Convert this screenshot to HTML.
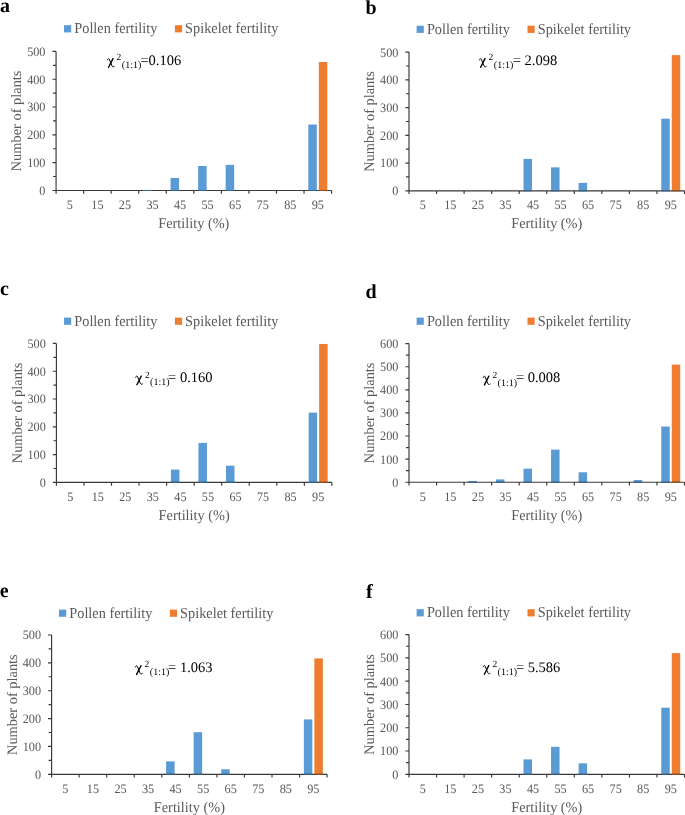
<!DOCTYPE html>
<html><head><meta charset="utf-8"><style>
html,body{margin:0;padding:0;background:#fff;}
body{width:685px;height:815px;overflow:hidden;}
svg{display:block;font-family:"Liberation Serif",serif;text-rendering:geometricPrecision;will-change:transform;}
</style></head><body>
<svg width="685" height="815" viewBox="0 0 685 815">
<rect width="685" height="815" fill="#fff"/>
<text transform="translate(0,12)" font-size="20" fill="#000" font-weight="bold">a</text>
<rect x="64" y="25.2" width="7.2" height="7.2" fill="#5B9BD5"/>
<text transform="translate(74.3,33.2) scale(1.0,1.06)" font-size="14.3" fill="#595959">Pollen fertility</text>
<rect x="174.9" y="25.2" width="7.2" height="7.2" fill="#ED7D31"/>
<text transform="translate(185.1,33.2) scale(1.0,1.06)" font-size="14.3" fill="#595959">Spikelet fertility</text>
<rect x="143.02" y="190.17" width="8.5" height="0.28" fill="#5B9BD5"/>
<rect x="170.57" y="177.94" width="8.5" height="12.51" fill="#5B9BD5"/>
<rect x="198.12" y="165.98" width="8.5" height="24.47" fill="#5B9BD5"/>
<rect x="225.67" y="164.86" width="8.5" height="25.59" fill="#5B9BD5"/>
<rect x="308.32" y="124.54" width="8.5" height="65.91" fill="#5B9BD5"/>
<rect x="318.82" y="61.97" width="8.5" height="128.48" fill="#ED7D31"/>
<path d="M56.07,51.4V193.75M52.47,190.45H331.57M52.47,162.64H56.07M52.47,134.83H56.07M52.47,107.02H56.07M52.47,79.21H56.07M52.47,51.4H56.07M53.07,176.54H56.07M53.07,148.73H56.07M53.07,120.92H56.07M53.07,93.12H56.07M53.07,65.31H56.07M83.62,190.45V193.75M111.17,190.45V193.75M138.72,190.45V193.75M166.27,190.45V193.75M193.82,190.45V193.75M221.37,190.45V193.75M248.92,190.45V193.75M276.47,190.45V193.75M304.02,190.45V193.75M331.57,190.45V193.75" stroke="#383838" stroke-width="1.15" fill="none"/>
<rect x="143.02" y="189.95" width="8.5" height="1" fill="#3a6790"/>
<rect x="170.57" y="189.95" width="8.5" height="1" fill="#3a6790"/>
<rect x="198.12" y="189.95" width="8.5" height="1" fill="#3a6790"/>
<rect x="225.67" y="189.95" width="8.5" height="1" fill="#3a6790"/>
<rect x="308.32" y="189.95" width="8.5" height="1" fill="#3a6790"/>
<rect x="318.82" y="189.95" width="8.5" height="1" fill="#a0531f"/>
<text transform="translate(45.47,194.85) scale(0.946,1.0)" font-size="12.9" fill="#595959" text-anchor="end">0</text>
<text transform="translate(45.47,167.04) scale(0.946,1.0)" font-size="12.9" fill="#595959" text-anchor="end">100</text>
<text transform="translate(45.47,139.23) scale(0.946,1.0)" font-size="12.9" fill="#595959" text-anchor="end">200</text>
<text transform="translate(45.47,111.42) scale(0.946,1.0)" font-size="12.9" fill="#595959" text-anchor="end">300</text>
<text transform="translate(45.47,83.61) scale(0.946,1.0)" font-size="12.9" fill="#595959" text-anchor="end">400</text>
<text transform="translate(45.47,55.8) scale(0.946,1.0)" font-size="12.9" fill="#595959" text-anchor="end">500</text>
<text transform="translate(69.84,208.85) scale(0.946,1.0)" font-size="12.9" fill="#595959" text-anchor="middle">5</text>
<text transform="translate(97.4,208.85) scale(0.946,1.0)" font-size="12.9" fill="#595959" text-anchor="middle">15</text>
<text transform="translate(124.94,208.85) scale(0.946,1.0)" font-size="12.9" fill="#595959" text-anchor="middle">25</text>
<text transform="translate(152.5,208.85) scale(0.946,1.0)" font-size="12.9" fill="#595959" text-anchor="middle">35</text>
<text transform="translate(180.05,208.85) scale(0.946,1.0)" font-size="12.9" fill="#595959" text-anchor="middle">45</text>
<text transform="translate(207.59,208.85) scale(0.946,1.0)" font-size="12.9" fill="#595959" text-anchor="middle">55</text>
<text transform="translate(235.15,208.85) scale(0.946,1.0)" font-size="12.9" fill="#595959" text-anchor="middle">65</text>
<text transform="translate(262.69,208.85) scale(0.946,1.0)" font-size="12.9" fill="#595959" text-anchor="middle">75</text>
<text transform="translate(290.25,208.85) scale(0.946,1.0)" font-size="12.9" fill="#595959" text-anchor="middle">85</text>
<text transform="translate(317.8,208.85) scale(0.946,1.0)" font-size="12.9" fill="#595959" text-anchor="middle">95</text>
<text transform="translate(193.82,227.95) scale(1.0,1.04)" font-size="14.3" fill="#595959" text-anchor="middle">Fertility (%)</text>
<text transform="translate(21.17,120.92) rotate(-90)" font-size="14.4" fill="#595959" text-anchor="middle">Number of plants</text>
<g transform="translate(107.4,64.7)" fill="none" stroke="#000" stroke-linecap="round"><path d="M0,-4.8C0.5,-6.3 1.4,-6.5 1.9,-5.5L4.6,1.2C5.2,2.4 6.2,2.5 6.9,1.8" stroke-width="1.0"/><path d="M5.6,-6.1L1.2,2.6" stroke-width="1.4"/></g>
<text transform="translate(116.6,60.1)" font-size="9.5" fill="#000">2</text>
<text transform="translate(121.8,67.9)" font-size="10" fill="#000">(1:1)</text>
<text transform="translate(140.4,64.7)" font-size="14.5" fill="#000" xml:space="preserve">=0.106</text>
<text transform="translate(365.6,14)" font-size="20" fill="#000" font-weight="bold">b</text>
<rect x="416.6" y="25.7" width="7.2" height="7.2" fill="#5B9BD5"/>
<text transform="translate(426.9,33.7) scale(1.0,1.06)" font-size="14.3" fill="#595959">Pollen fertility</text>
<rect x="527.5" y="25.7" width="7.2" height="7.2" fill="#ED7D31"/>
<text transform="translate(537.7,33.7) scale(1.0,1.06)" font-size="14.3" fill="#595959">Spikelet fertility</text>
<rect x="523.5" y="158.9" width="8.5" height="31.9" fill="#5B9BD5"/>
<rect x="551.05" y="167.36" width="8.5" height="23.44" fill="#5B9BD5"/>
<rect x="578.6" y="182.89" width="8.5" height="7.91" fill="#5B9BD5"/>
<rect x="661.25" y="118.68" width="8.5" height="72.12" fill="#5B9BD5"/>
<rect x="671.75" y="55.15" width="8.5" height="135.65" fill="#ED7D31"/>
<path d="M409,52.1V194.1M405.4,190.8H684.5M405.4,163.06H409M405.4,135.32H409M405.4,107.58H409M405.4,79.84H409M405.4,52.1H409M406,176.93H409M406,149.19H409M406,121.45H409M406,93.71H409M406,65.97H409M436.55,190.8V194.1M464.1,190.8V194.1M491.65,190.8V194.1M519.2,190.8V194.1M546.75,190.8V194.1M574.3,190.8V194.1M601.85,190.8V194.1M629.4,190.8V194.1M656.95,190.8V194.1M684.5,190.8V194.1" stroke="#383838" stroke-width="1.15" fill="none"/>
<rect x="523.5" y="190.3" width="8.5" height="1" fill="#3a6790"/>
<rect x="551.05" y="190.3" width="8.5" height="1" fill="#3a6790"/>
<rect x="578.6" y="190.3" width="8.5" height="1" fill="#3a6790"/>
<rect x="661.25" y="190.3" width="8.5" height="1" fill="#3a6790"/>
<rect x="671.75" y="190.3" width="8.5" height="1" fill="#a0531f"/>
<text transform="translate(398.4,195.2) scale(0.946,1.0)" font-size="12.9" fill="#595959" text-anchor="end">0</text>
<text transform="translate(398.4,167.46) scale(0.946,1.0)" font-size="12.9" fill="#595959" text-anchor="end">100</text>
<text transform="translate(398.4,139.72) scale(0.946,1.0)" font-size="12.9" fill="#595959" text-anchor="end">200</text>
<text transform="translate(398.4,111.98) scale(0.946,1.0)" font-size="12.9" fill="#595959" text-anchor="end">300</text>
<text transform="translate(398.4,84.24) scale(0.946,1.0)" font-size="12.9" fill="#595959" text-anchor="end">400</text>
<text transform="translate(398.4,56.5) scale(0.946,1.0)" font-size="12.9" fill="#595959" text-anchor="end">500</text>
<text transform="translate(422.77,209.2) scale(0.946,1.0)" font-size="12.9" fill="#595959" text-anchor="middle">5</text>
<text transform="translate(450.32,209.2) scale(0.946,1.0)" font-size="12.9" fill="#595959" text-anchor="middle">15</text>
<text transform="translate(477.88,209.2) scale(0.946,1.0)" font-size="12.9" fill="#595959" text-anchor="middle">25</text>
<text transform="translate(505.43,209.2) scale(0.946,1.0)" font-size="12.9" fill="#595959" text-anchor="middle">35</text>
<text transform="translate(532.98,209.2) scale(0.946,1.0)" font-size="12.9" fill="#595959" text-anchor="middle">45</text>
<text transform="translate(560.52,209.2) scale(0.946,1.0)" font-size="12.9" fill="#595959" text-anchor="middle">55</text>
<text transform="translate(588.08,209.2) scale(0.946,1.0)" font-size="12.9" fill="#595959" text-anchor="middle">65</text>
<text transform="translate(615.62,209.2) scale(0.946,1.0)" font-size="12.9" fill="#595959" text-anchor="middle">75</text>
<text transform="translate(643.17,209.2) scale(0.946,1.0)" font-size="12.9" fill="#595959" text-anchor="middle">85</text>
<text transform="translate(670.73,209.2) scale(0.946,1.0)" font-size="12.9" fill="#595959" text-anchor="middle">95</text>
<text transform="translate(546.75,228.3) scale(1.0,1.04)" font-size="14.3" fill="#595959" text-anchor="middle">Fertility (%)</text>
<text transform="translate(374.1,121.45) rotate(-90)" font-size="14.4" fill="#595959" text-anchor="middle">Number of plants</text>
<g transform="translate(479.4,64.7)" fill="none" stroke="#000" stroke-linecap="round"><path d="M0,-4.8C0.5,-6.3 1.4,-6.5 1.9,-5.5L4.6,1.2C5.2,2.4 6.2,2.5 6.9,1.8" stroke-width="1.0"/><path d="M5.6,-6.1L1.2,2.6" stroke-width="1.4"/></g>
<text transform="translate(488.6,60.1)" font-size="9.5" fill="#000">2</text>
<text transform="translate(493.8,67.9)" font-size="10" fill="#000">(1:1)</text>
<text transform="translate(512.8,64.7)" font-size="14.5" fill="#000" xml:space="preserve">= 2.098</text>
<text transform="translate(0,294.7)" font-size="20" fill="#000" font-weight="bold">c</text>
<rect x="64" y="317.6" width="7.2" height="7.2" fill="#5B9BD5"/>
<text transform="translate(74.3,325.6) scale(1.0,1.06)" font-size="14.3" fill="#595959">Pollen fertility</text>
<rect x="174.9" y="317.6" width="7.2" height="7.2" fill="#ED7D31"/>
<text transform="translate(185.1,325.6) scale(1.0,1.06)" font-size="14.3" fill="#595959">Spikelet fertility</text>
<rect x="170.9" y="469.61" width="8.5" height="12.79" fill="#5B9BD5"/>
<rect x="198.45" y="442.92" width="8.5" height="39.48" fill="#5B9BD5"/>
<rect x="226" y="465.72" width="8.5" height="16.68" fill="#5B9BD5"/>
<rect x="308.65" y="412.62" width="8.5" height="69.78" fill="#5B9BD5"/>
<rect x="319.15" y="343.96" width="8.5" height="138.44" fill="#ED7D31"/>
<path d="M56.4,343.4V485.7M52.8,482.4H331.9M52.8,454.6H56.4M52.8,426.8H56.4M52.8,399H56.4M52.8,371.2H56.4M52.8,343.4H56.4M53.4,468.5H56.4M53.4,440.7H56.4M53.4,412.9H56.4M53.4,385.1H56.4M53.4,357.3H56.4M83.95,482.4V485.7M111.5,482.4V485.7M139.05,482.4V485.7M166.6,482.4V485.7M194.15,482.4V485.7M221.7,482.4V485.7M249.25,482.4V485.7M276.8,482.4V485.7M304.35,482.4V485.7M331.9,482.4V485.7" stroke="#383838" stroke-width="1.15" fill="none"/>
<rect x="170.9" y="481.9" width="8.5" height="1" fill="#3a6790"/>
<rect x="198.45" y="481.9" width="8.5" height="1" fill="#3a6790"/>
<rect x="226" y="481.9" width="8.5" height="1" fill="#3a6790"/>
<rect x="308.65" y="481.9" width="8.5" height="1" fill="#3a6790"/>
<rect x="319.15" y="481.9" width="8.5" height="1" fill="#a0531f"/>
<text transform="translate(45.8,486.8) scale(0.946,1.0)" font-size="12.9" fill="#595959" text-anchor="end">0</text>
<text transform="translate(45.8,459) scale(0.946,1.0)" font-size="12.9" fill="#595959" text-anchor="end">100</text>
<text transform="translate(45.8,431.2) scale(0.946,1.0)" font-size="12.9" fill="#595959" text-anchor="end">200</text>
<text transform="translate(45.8,403.4) scale(0.946,1.0)" font-size="12.9" fill="#595959" text-anchor="end">300</text>
<text transform="translate(45.8,375.6) scale(0.946,1.0)" font-size="12.9" fill="#595959" text-anchor="end">400</text>
<text transform="translate(45.8,347.8) scale(0.946,1.0)" font-size="12.9" fill="#595959" text-anchor="end">500</text>
<text transform="translate(70.17,500.8) scale(0.946,1.0)" font-size="12.9" fill="#595959" text-anchor="middle">5</text>
<text transform="translate(97.72,500.8) scale(0.946,1.0)" font-size="12.9" fill="#595959" text-anchor="middle">15</text>
<text transform="translate(125.28,500.8) scale(0.946,1.0)" font-size="12.9" fill="#595959" text-anchor="middle">25</text>
<text transform="translate(152.82,500.8) scale(0.946,1.0)" font-size="12.9" fill="#595959" text-anchor="middle">35</text>
<text transform="translate(180.38,500.8) scale(0.946,1.0)" font-size="12.9" fill="#595959" text-anchor="middle">45</text>
<text transform="translate(207.93,500.8) scale(0.946,1.0)" font-size="12.9" fill="#595959" text-anchor="middle">55</text>
<text transform="translate(235.48,500.8) scale(0.946,1.0)" font-size="12.9" fill="#595959" text-anchor="middle">65</text>
<text transform="translate(263.02,500.8) scale(0.946,1.0)" font-size="12.9" fill="#595959" text-anchor="middle">75</text>
<text transform="translate(290.57,500.8) scale(0.946,1.0)" font-size="12.9" fill="#595959" text-anchor="middle">85</text>
<text transform="translate(318.12,500.8) scale(0.946,1.0)" font-size="12.9" fill="#595959" text-anchor="middle">95</text>
<text transform="translate(194.15,519.9) scale(1.0,1.04)" font-size="14.3" fill="#595959" text-anchor="middle">Fertility (%)</text>
<text transform="translate(21.5,412.9) rotate(-90)" font-size="14.4" fill="#595959" text-anchor="middle">Number of plants</text>
<g transform="translate(135.7,382.1)" fill="none" stroke="#000" stroke-linecap="round"><path d="M0,-4.8C0.5,-6.3 1.4,-6.5 1.9,-5.5L4.6,1.2C5.2,2.4 6.2,2.5 6.9,1.8" stroke-width="1.0"/><path d="M5.6,-6.1L1.2,2.6" stroke-width="1.4"/></g>
<text transform="translate(144.9,377.5)" font-size="9.5" fill="#000">2</text>
<text transform="translate(150.1,385.3)" font-size="10" fill="#000">(1:1)</text>
<text transform="translate(168.1,382.1)" font-size="14.5" fill="#000" xml:space="preserve">= 0.160</text>
<text transform="translate(365.5,297.65)" font-size="20" fill="#000" font-weight="bold">d</text>
<rect x="416.6" y="317.6" width="7.2" height="7.2" fill="#5B9BD5"/>
<text transform="translate(426.9,325.6) scale(1.0,1.06)" font-size="14.3" fill="#595959">Pollen fertility</text>
<rect x="527.5" y="317.6" width="7.2" height="7.2" fill="#ED7D31"/>
<text transform="translate(537.7,325.6) scale(1.0,1.06)" font-size="14.3" fill="#595959">Spikelet fertility</text>
<rect x="468.4" y="481.05" width="8.5" height="1.15" fill="#5B9BD5"/>
<rect x="495.95" y="479.43" width="8.5" height="2.77" fill="#5B9BD5"/>
<rect x="523.5" y="468.64" width="8.5" height="13.56" fill="#5B9BD5"/>
<rect x="551.05" y="449.63" width="8.5" height="32.57" fill="#5B9BD5"/>
<rect x="578.6" y="472.27" width="8.5" height="9.93" fill="#5B9BD5"/>
<rect x="633.7" y="479.98" width="8.5" height="2.22" fill="#5B9BD5"/>
<rect x="661.25" y="426.53" width="8.5" height="55.67" fill="#5B9BD5"/>
<rect x="671.75" y="364.62" width="8.5" height="117.58" fill="#ED7D31"/>
<path d="M409,343.6V485.5M405.4,482.2H684.5M405.4,459.1H409M405.4,436H409M405.4,412.9H409M405.4,389.8H409M405.4,366.7H409M405.4,343.6H409M406,470.65H409M406,447.55H409M406,424.45H409M406,401.35H409M406,378.25H409M406,355.15H409M436.55,482.2V485.5M464.1,482.2V485.5M491.65,482.2V485.5M519.2,482.2V485.5M546.75,482.2V485.5M574.3,482.2V485.5M601.85,482.2V485.5M629.4,482.2V485.5M656.95,482.2V485.5M684.5,482.2V485.5" stroke="#383838" stroke-width="1.15" fill="none"/>
<rect x="468.4" y="481.7" width="8.5" height="1" fill="#3a6790"/>
<rect x="495.95" y="481.7" width="8.5" height="1" fill="#3a6790"/>
<rect x="523.5" y="481.7" width="8.5" height="1" fill="#3a6790"/>
<rect x="551.05" y="481.7" width="8.5" height="1" fill="#3a6790"/>
<rect x="578.6" y="481.7" width="8.5" height="1" fill="#3a6790"/>
<rect x="633.7" y="481.7" width="8.5" height="1" fill="#3a6790"/>
<rect x="661.25" y="481.7" width="8.5" height="1" fill="#3a6790"/>
<rect x="671.75" y="481.7" width="8.5" height="1" fill="#a0531f"/>
<text transform="translate(398.4,486.6) scale(0.946,1.0)" font-size="12.9" fill="#595959" text-anchor="end">0</text>
<text transform="translate(398.4,463.5) scale(0.946,1.0)" font-size="12.9" fill="#595959" text-anchor="end">100</text>
<text transform="translate(398.4,440.4) scale(0.946,1.0)" font-size="12.9" fill="#595959" text-anchor="end">200</text>
<text transform="translate(398.4,417.3) scale(0.946,1.0)" font-size="12.9" fill="#595959" text-anchor="end">300</text>
<text transform="translate(398.4,394.2) scale(0.946,1.0)" font-size="12.9" fill="#595959" text-anchor="end">400</text>
<text transform="translate(398.4,371.1) scale(0.946,1.0)" font-size="12.9" fill="#595959" text-anchor="end">500</text>
<text transform="translate(398.4,348) scale(0.946,1.0)" font-size="12.9" fill="#595959" text-anchor="end">600</text>
<text transform="translate(422.77,500.6) scale(0.946,1.0)" font-size="12.9" fill="#595959" text-anchor="middle">5</text>
<text transform="translate(450.32,500.6) scale(0.946,1.0)" font-size="12.9" fill="#595959" text-anchor="middle">15</text>
<text transform="translate(477.88,500.6) scale(0.946,1.0)" font-size="12.9" fill="#595959" text-anchor="middle">25</text>
<text transform="translate(505.43,500.6) scale(0.946,1.0)" font-size="12.9" fill="#595959" text-anchor="middle">35</text>
<text transform="translate(532.98,500.6) scale(0.946,1.0)" font-size="12.9" fill="#595959" text-anchor="middle">45</text>
<text transform="translate(560.52,500.6) scale(0.946,1.0)" font-size="12.9" fill="#595959" text-anchor="middle">55</text>
<text transform="translate(588.08,500.6) scale(0.946,1.0)" font-size="12.9" fill="#595959" text-anchor="middle">65</text>
<text transform="translate(615.62,500.6) scale(0.946,1.0)" font-size="12.9" fill="#595959" text-anchor="middle">75</text>
<text transform="translate(643.17,500.6) scale(0.946,1.0)" font-size="12.9" fill="#595959" text-anchor="middle">85</text>
<text transform="translate(670.73,500.6) scale(0.946,1.0)" font-size="12.9" fill="#595959" text-anchor="middle">95</text>
<text transform="translate(546.75,519.7) scale(1.0,1.04)" font-size="14.3" fill="#595959" text-anchor="middle">Fertility (%)</text>
<text transform="translate(374.1,412.9) rotate(-90)" font-size="14.4" fill="#595959" text-anchor="middle">Number of plants</text>
<g transform="translate(483.2,382.3)" fill="none" stroke="#000" stroke-linecap="round"><path d="M0,-4.8C0.5,-6.3 1.4,-6.5 1.9,-5.5L4.6,1.2C5.2,2.4 6.2,2.5 6.9,1.8" stroke-width="1.0"/><path d="M5.6,-6.1L1.2,2.6" stroke-width="1.4"/></g>
<text transform="translate(492.4,377.7)" font-size="9.5" fill="#000">2</text>
<text transform="translate(497.6,385.5)" font-size="10" fill="#000">(1:1)</text>
<text transform="translate(515.9,382.3)" font-size="14.5" fill="#000" xml:space="preserve">= 0.008</text>
<text transform="translate(-0.2,596.8)" font-size="20" fill="#000" font-weight="bold">e</text>
<rect x="59" y="609.6" width="7.2" height="7.2" fill="#5B9BD5"/>
<text transform="translate(69.3,617.6) scale(1.0,1.06)" font-size="14.3" fill="#595959">Pollen fertility</text>
<rect x="169.9" y="609.6" width="7.2" height="7.2" fill="#ED7D31"/>
<text transform="translate(180.1,617.6) scale(1.0,1.06)" font-size="14.3" fill="#595959">Spikelet fertility</text>
<rect x="166.1" y="761.35" width="8.5" height="12.95" fill="#5B9BD5"/>
<rect x="193.65" y="732.23" width="8.5" height="42.07" fill="#5B9BD5"/>
<rect x="221.2" y="769.29" width="8.5" height="5.01" fill="#5B9BD5"/>
<rect x="303.85" y="719.42" width="8.5" height="54.88" fill="#5B9BD5"/>
<rect x="314.35" y="658.4" width="8.5" height="115.9" fill="#ED7D31"/>
<path d="M51.6,635V777.6M48,774.3H327.1M48,746.44H51.6M48,718.58H51.6M48,690.72H51.6M48,662.86H51.6M48,635H51.6M48.6,760.37H51.6M48.6,732.51H51.6M48.6,704.65H51.6M48.6,676.79H51.6M48.6,648.93H51.6M79.15,774.3V777.6M106.7,774.3V777.6M134.25,774.3V777.6M161.8,774.3V777.6M189.35,774.3V777.6M216.9,774.3V777.6M244.45,774.3V777.6M272,774.3V777.6M299.55,774.3V777.6M327.1,774.3V777.6" stroke="#383838" stroke-width="1.15" fill="none"/>
<rect x="166.1" y="773.8" width="8.5" height="1" fill="#3a6790"/>
<rect x="193.65" y="773.8" width="8.5" height="1" fill="#3a6790"/>
<rect x="221.2" y="773.8" width="8.5" height="1" fill="#3a6790"/>
<rect x="303.85" y="773.8" width="8.5" height="1" fill="#3a6790"/>
<rect x="314.35" y="773.8" width="8.5" height="1" fill="#a0531f"/>
<text transform="translate(41,778.7) scale(0.946,1.0)" font-size="12.9" fill="#595959" text-anchor="end">0</text>
<text transform="translate(41,750.84) scale(0.946,1.0)" font-size="12.9" fill="#595959" text-anchor="end">100</text>
<text transform="translate(41,722.98) scale(0.946,1.0)" font-size="12.9" fill="#595959" text-anchor="end">200</text>
<text transform="translate(41,695.12) scale(0.946,1.0)" font-size="12.9" fill="#595959" text-anchor="end">300</text>
<text transform="translate(41,667.26) scale(0.946,1.0)" font-size="12.9" fill="#595959" text-anchor="end">400</text>
<text transform="translate(41,639.4) scale(0.946,1.0)" font-size="12.9" fill="#595959" text-anchor="end">500</text>
<text transform="translate(65.38,792.7) scale(0.946,1.0)" font-size="12.9" fill="#595959" text-anchor="middle">5</text>
<text transform="translate(92.93,792.7) scale(0.946,1.0)" font-size="12.9" fill="#595959" text-anchor="middle">15</text>
<text transform="translate(120.47,792.7) scale(0.946,1.0)" font-size="12.9" fill="#595959" text-anchor="middle">25</text>
<text transform="translate(148.03,792.7) scale(0.946,1.0)" font-size="12.9" fill="#595959" text-anchor="middle">35</text>
<text transform="translate(175.58,792.7) scale(0.946,1.0)" font-size="12.9" fill="#595959" text-anchor="middle">45</text>
<text transform="translate(203.12,792.7) scale(0.946,1.0)" font-size="12.9" fill="#595959" text-anchor="middle">55</text>
<text transform="translate(230.68,792.7) scale(0.946,1.0)" font-size="12.9" fill="#595959" text-anchor="middle">65</text>
<text transform="translate(258.23,792.7) scale(0.946,1.0)" font-size="12.9" fill="#595959" text-anchor="middle">75</text>
<text transform="translate(285.78,792.7) scale(0.946,1.0)" font-size="12.9" fill="#595959" text-anchor="middle">85</text>
<text transform="translate(313.33,792.7) scale(0.946,1.0)" font-size="12.9" fill="#595959" text-anchor="middle">95</text>
<text transform="translate(189.35,811.8) scale(1.0,1.04)" font-size="14.3" fill="#595959" text-anchor="middle">Fertility (%)</text>
<text transform="translate(16.7,704.65) rotate(-90)" font-size="14.4" fill="#595959" text-anchor="middle">Number of plants</text>
<g transform="translate(135.4,671.8)" fill="none" stroke="#000" stroke-linecap="round"><path d="M0,-4.8C0.5,-6.3 1.4,-6.5 1.9,-5.5L4.6,1.2C5.2,2.4 6.2,2.5 6.9,1.8" stroke-width="1.0"/><path d="M5.6,-6.1L1.2,2.6" stroke-width="1.4"/></g>
<text transform="translate(144.6,667.2)" font-size="9.5" fill="#000">2</text>
<text transform="translate(149.8,675)" font-size="10" fill="#000">(1:1)</text>
<text transform="translate(168.1,671.8)" font-size="14.5" fill="#000" xml:space="preserve">= 1.063</text>
<text transform="translate(366,598.1)" font-size="20" fill="#000" font-weight="bold">f</text>
<rect x="416.6" y="609.2" width="7.2" height="7.2" fill="#5B9BD5"/>
<text transform="translate(426.9,617.2) scale(1.0,1.06)" font-size="14.3" fill="#595959">Pollen fertility</text>
<rect x="527.5" y="609.2" width="7.2" height="7.2" fill="#ED7D31"/>
<text transform="translate(537.7,617.2) scale(1.0,1.06)" font-size="14.3" fill="#595959">Spikelet fertility</text>
<rect x="523.5" y="759.4" width="8.5" height="14.9" fill="#5B9BD5"/>
<rect x="551.05" y="746.83" width="8.5" height="27.47" fill="#5B9BD5"/>
<rect x="578.6" y="763.36" width="8.5" height="10.94" fill="#5B9BD5"/>
<rect x="661.25" y="707.71" width="8.5" height="66.59" fill="#5B9BD5"/>
<rect x="671.75" y="653.11" width="8.5" height="121.19" fill="#ED7D31"/>
<path d="M409,634.6V777.6M405.4,774.3H684.5M405.4,751.02H409M405.4,727.73H409M405.4,704.45H409M405.4,681.17H409M405.4,657.88H409M405.4,634.6H409M406,762.66H409M406,739.38H409M406,716.09H409M406,692.81H409M406,669.52H409M406,646.24H409M436.55,774.3V777.6M464.1,774.3V777.6M491.65,774.3V777.6M519.2,774.3V777.6M546.75,774.3V777.6M574.3,774.3V777.6M601.85,774.3V777.6M629.4,774.3V777.6M656.95,774.3V777.6M684.5,774.3V777.6" stroke="#383838" stroke-width="1.15" fill="none"/>
<rect x="523.5" y="773.8" width="8.5" height="1" fill="#3a6790"/>
<rect x="551.05" y="773.8" width="8.5" height="1" fill="#3a6790"/>
<rect x="578.6" y="773.8" width="8.5" height="1" fill="#3a6790"/>
<rect x="661.25" y="773.8" width="8.5" height="1" fill="#3a6790"/>
<rect x="671.75" y="773.8" width="8.5" height="1" fill="#a0531f"/>
<text transform="translate(398.4,778.7) scale(0.946,1.0)" font-size="12.9" fill="#595959" text-anchor="end">0</text>
<text transform="translate(398.4,755.42) scale(0.946,1.0)" font-size="12.9" fill="#595959" text-anchor="end">100</text>
<text transform="translate(398.4,732.13) scale(0.946,1.0)" font-size="12.9" fill="#595959" text-anchor="end">200</text>
<text transform="translate(398.4,708.85) scale(0.946,1.0)" font-size="12.9" fill="#595959" text-anchor="end">300</text>
<text transform="translate(398.4,685.57) scale(0.946,1.0)" font-size="12.9" fill="#595959" text-anchor="end">400</text>
<text transform="translate(398.4,662.28) scale(0.946,1.0)" font-size="12.9" fill="#595959" text-anchor="end">500</text>
<text transform="translate(398.4,639) scale(0.946,1.0)" font-size="12.9" fill="#595959" text-anchor="end">600</text>
<text transform="translate(422.77,792.7) scale(0.946,1.0)" font-size="12.9" fill="#595959" text-anchor="middle">5</text>
<text transform="translate(450.32,792.7) scale(0.946,1.0)" font-size="12.9" fill="#595959" text-anchor="middle">15</text>
<text transform="translate(477.88,792.7) scale(0.946,1.0)" font-size="12.9" fill="#595959" text-anchor="middle">25</text>
<text transform="translate(505.43,792.7) scale(0.946,1.0)" font-size="12.9" fill="#595959" text-anchor="middle">35</text>
<text transform="translate(532.98,792.7) scale(0.946,1.0)" font-size="12.9" fill="#595959" text-anchor="middle">45</text>
<text transform="translate(560.52,792.7) scale(0.946,1.0)" font-size="12.9" fill="#595959" text-anchor="middle">55</text>
<text transform="translate(588.08,792.7) scale(0.946,1.0)" font-size="12.9" fill="#595959" text-anchor="middle">65</text>
<text transform="translate(615.62,792.7) scale(0.946,1.0)" font-size="12.9" fill="#595959" text-anchor="middle">75</text>
<text transform="translate(643.17,792.7) scale(0.946,1.0)" font-size="12.9" fill="#595959" text-anchor="middle">85</text>
<text transform="translate(670.73,792.7) scale(0.946,1.0)" font-size="12.9" fill="#595959" text-anchor="middle">95</text>
<text transform="translate(546.75,811.8) scale(1.0,1.04)" font-size="14.3" fill="#595959" text-anchor="middle">Fertility (%)</text>
<text transform="translate(374.1,704.45) rotate(-90)" font-size="14.4" fill="#595959" text-anchor="middle">Number of plants</text>
<g transform="translate(483.2,671.6)" fill="none" stroke="#000" stroke-linecap="round"><path d="M0,-4.8C0.5,-6.3 1.4,-6.5 1.9,-5.5L4.6,1.2C5.2,2.4 6.2,2.5 6.9,1.8" stroke-width="1.0"/><path d="M5.6,-6.1L1.2,2.6" stroke-width="1.4"/></g>
<text transform="translate(492.4,667)" font-size="9.5" fill="#000">2</text>
<text transform="translate(497.6,674.8)" font-size="10" fill="#000">(1:1)</text>
<text transform="translate(515.9,671.6)" font-size="14.5" fill="#000" xml:space="preserve">= 5.586</text>
</svg>
</body></html>
